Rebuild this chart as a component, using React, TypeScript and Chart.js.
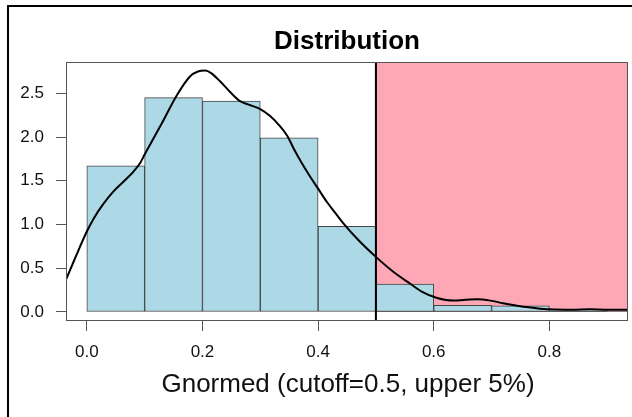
import React, { useEffect, useRef } from "react";
import { Chart, registerables } from "chart.js";

Chart.register(...registerables);

// Histogram bins (density scale)
const binStarts = [0.0, 0.1, 0.2, 0.3, 0.4, 0.5, 0.6, 0.7, 0.8];
const binWidth = 0.1;
const binDensity = [1.67, 2.45, 2.41, 1.99, 0.98, 0.32, 0.075, 0.07, 0.03];

// Kernel density curve
const densX = [
  -0.036, -0.02, 0.0, 0.012, 0.028, 0.045, 0.065, 0.08, 0.092, 0.1, 0.115, 0.13,
  0.155, 0.178, 0.192, 0.205, 0.215, 0.23, 0.25, 0.265, 0.28, 0.3, 0.317, 0.332,
  0.346, 0.36, 0.372, 0.385, 0.4, 0.415, 0.43, 0.443, 0.47, 0.5, 0.53, 0.56, 0.58,
  0.606, 0.634, 0.655, 0.675, 0.698, 0.72, 0.75, 0.775, 0.8, 0.84, 0.87, 0.9, 0.936,
];
const densY = [
  0.37, 0.62, 0.92, 1.07, 1.23, 1.37, 1.5, 1.6, 1.7, 1.8, 1.98, 2.16,
  2.47, 2.69, 2.75, 2.76, 2.73, 2.64, 2.5, 2.41, 2.37, 2.32, 2.24, 2.14,
  2.02, 1.84, 1.7, 1.56, 1.41, 1.26, 1.13, 1.02, 0.82, 0.63, 0.46, 0.32, 0.23,
  0.16, 0.13, 0.14, 0.145, 0.13, 0.1, 0.065, 0.045, 0.03, 0.025, 0.03, 0.025, 0.025,
];

const cutoff = 0.5;
const xTicks = [0.0, 0.2, 0.4, 0.6, 0.8];
const yTicks = [0.0, 0.5, 1.0, 1.5, 2.0, 2.5];
const xRange = [-0.036, 0.936];
const yRange = [-0.103, 2.858];

const titleText = "Distribution";
const xLabelText = "Gnormed (cutoff=0.5, upper 5%)";

const FONT = "'Liberation Sans', Arial, sans-serif";

const decorPlugin = {
  id: "decor",
  beforeDatasetsDraw(chart: any) {
    const { ctx, chartArea, scales } = chart;
    const xs = scales.x;
    const ys = scales.y;
    const x0 = xs.getPixelForValue(cutoff);
    const y1 = ys.getPixelForValue(0);
    ctx.save();
    ctx.fillStyle = "#FFA8B5";
    ctx.fillRect(x0, chartArea.top, chartArea.right - x0, y1 - chartArea.top);
    ctx.strokeStyle = "#8a7c7e";
    ctx.lineWidth = 1;
    ctx.strokeRect(x0 + 0.5, chartArea.top + 0.5, chartArea.right - x0 - 1, y1 - chartArea.top - 1);
    ctx.restore();
  },
  afterDatasetsDraw(chart: any) {
    const { ctx, chartArea, scales } = chart;
    const xs = scales.x;
    const xc = xs.getPixelForValue(cutoff);
    ctx.save();
    // cutoff line
    ctx.strokeStyle = "#000";
    ctx.lineWidth = 2;
    ctx.beginPath();
    ctx.moveTo(xc, chartArea.top);
    ctx.lineTo(xc, chartArea.bottom);
    ctx.stroke();
    // plot box
    ctx.strokeStyle = "#555";
    ctx.lineWidth = 1;
    ctx.strokeRect(
      chartArea.left + 0.5,
      chartArea.top + 0.5,
      chartArea.right - chartArea.left - 1,
      chartArea.bottom - chartArea.top - 1
    );
    // outer frame
    ctx.strokeStyle = "#000";
    ctx.lineWidth = 2;
    ctx.beginPath();
    ctx.moveTo(8, chart.height);
    ctx.lineTo(8, 6);
    ctx.lineTo(chart.width, 6);
    ctx.stroke();
    // title
    const cx = (chartArea.left + chartArea.right) / 2;
    ctx.fillStyle = "#000";
    ctx.textAlign = "center";
    ctx.textBaseline = "alphabetic";
    ctx.font = `bold 26px ${FONT}`;
    ctx.fillText(titleText, cx, 49);
    // x label
    ctx.font = `26px ${FONT}`;
    ctx.fillStyle = "#111";
    ctx.fillText(xLabelText, cx + 1, 392);
    ctx.restore();
  },
};

export default function App() {
  const ref = useRef<HTMLCanvasElement | null>(null);

  useEffect(() => {
    if (!ref.current) return;
    const barData = binStarts.map((s, i) => ({ x: s + binWidth / 2, y: binDensity[i] }));
    const lineData = densX.map((x, i) => ({ x, y: densY[i] }));
    const chart = new Chart(ref.current, {
      type: "bar",
      data: {
        datasets: [
          {
            type: "line",
            data: lineData,
            borderColor: "#000",
            borderWidth: 2,
            pointRadius: 0,
            fill: false,
            cubicInterpolationMode: "monotone",
            order: 0,
          } as any,
          {
            type: "bar",
            data: barData,
            backgroundColor: "#ADD8E6",
            borderColor: "#444",
            borderWidth: 1,
            borderSkipped: false,
            barPercentage: 1,
            categoryPercentage: 1,
            order: 1,
          } as any,
        ],
      },
      options: {
        animation: false,
        responsive: false,
        devicePixelRatio: 1,
        layout: { padding: { top: 62, right: 4, left: 0, bottom: 0 } },
        plugins: {
          legend: { display: false },
          tooltip: { enabled: false },
          title: { display: false },
        },
        scales: {
          x: {
            type: "linear",
            min: xRange[0],
            max: xRange[1],
            offset: false,
            afterBuildTicks: (scale: any) => {
              scale.ticks = xTicks.map((v) => ({ value: v }));
            },
            afterFit: (scale: any) => {
              scale.height = 96;
            },
            grid: {
              display: true,
              drawOnChartArea: false,
              drawTicks: true,
              tickLength: 10,
              color: "#555",
              offset: false,
            },
            border: { display: false },
            ticks: {
              autoSkip: false,
              maxRotation: 0,
              padding: 11,
              color: "#111",
              font: { family: FONT, size: 17 },
              callback: (v: any) => Number(v).toFixed(1),
            },
          },
          y: {
            type: "linear",
            min: yRange[0],
            max: yRange[1],
            afterBuildTicks: (scale: any) => {
              scale.ticks = yTicks.map((v) => ({ value: v }));
            },
            afterFit: (scale: any) => {
              scale.width = 66;
            },
            grid: {
              display: true,
              drawOnChartArea: false,
              drawTicks: true,
              tickLength: 10,
              color: "#555",
            },
            border: { display: false },
            ticks: {
              autoSkip: false,
              padding: 12,
              color: "#111",
              font: { family: FONT, size: 17 },
              callback: (v: any) => Number(v).toFixed(1),
            },
          },
        },
      },
      plugins: [decorPlugin],
    });
    return () => chart.destroy();
  }, []);

  return (
    <div style={{ position: "fixed", left: 0, top: 0, width: 632, height: 417, background: "#fff" }}>
      <canvas ref={ref} width={632} height={417} style={{ width: 632, height: 417, display: "block" }} />
    </div>
  );
}
